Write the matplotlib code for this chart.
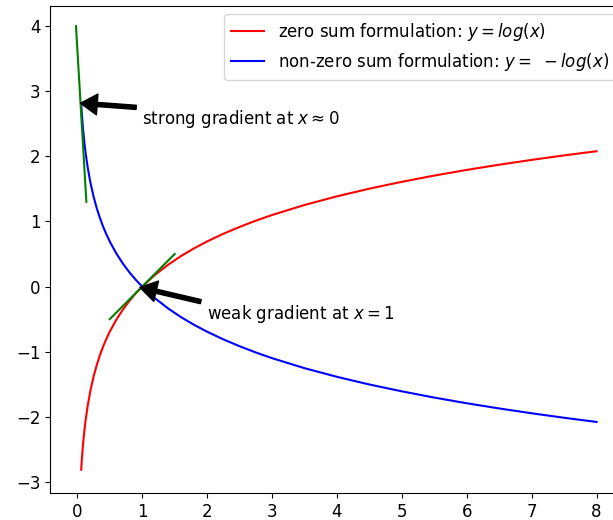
import matplotlib
matplotlib.use('Agg')
import matplotlib.pyplot as plt

plt.rcParams['font.size'] = 12

# values
x_vals = [0.06, 0.07, 0.08, 0.09, 0.1, 0.11, 0.13, 0.16, 0.2, 0.25, 0.3, 0.35,
          0.4, 0.45, 0.5, 0.6, 0.7, 0.8, 0.9, 1.0, 1.2, 1.4, 1.6, 1.8, 2.0,
          2.25, 2.5, 2.75, 3.0, 3.5, 4.0, 4.5, 5.0, 5.5, 6.0, 6.5, 7.0, 7.5, 8.0]
zero_sum_y = [-2.813, -2.659, -2.526, -2.408, -2.303, -2.207, -2.040, -1.833,
              -1.609, -1.386, -1.204, -1.050, -0.916, -0.799, -0.693, -0.511,
              -0.357, -0.223, -0.105, 0.0, 0.182, 0.336, 0.470, 0.588, 0.693,
              0.811, 0.916, 1.012, 1.099, 1.253, 1.386, 1.504, 1.609, 1.705,
              1.792, 1.872, 1.946, 2.015, 2.079]
non_zero_sum_y = [2.813, 2.659, 2.526, 2.408, 2.303, 2.207, 2.040, 1.833,
                  1.609, 1.386, 1.204, 1.050, 0.916, 0.799, 0.693, 0.511,
                  0.357, 0.223, 0.105, 0.0, -0.182, -0.336, -0.470, -0.588,
                  -0.693, -0.811, -0.916, -1.012, -1.099, -1.253, -1.386,
                  -1.504, -1.609, -1.705, -1.792, -1.872, -1.946, -2.015, -2.079]

# tangent segments
steep_x = [-0.02, 0.14]
steep_y = [4.0, 1.3]
weak_x = [0.5, 1.5]
weak_y = [-0.5, 0.5]

fig = plt.figure(figsize=(6.13, 5.2), dpi=100)
ax = fig.add_axes([0.0816, 0.052, 0.936, 0.9365])

ax.plot(x_vals, zero_sum_y, color='red', label='zero sum formulation: $y=log(x)$')
ax.plot(x_vals, non_zero_sum_y, color='blue',
        label='non-zero sum formulation: $y=\\ -log(x)$')
ax.plot(steep_x, steep_y, color='green')
ax.plot(weak_x, weak_y, color='green')

arrow = dict(facecolor='black', shrink=0.05, width=3, headwidth=15, headlength=12)
ax.annotate('strong gradient at $x \\approx 0$', xy=(0.0, 2.82), xytext=(1.0, 2.5),
            arrowprops=arrow)
ax.annotate('weak gradient at $x=1$', xy=(0.91, 0.0), xytext=(2.0, -0.5),
            arrowprops=arrow)

ax.set_xlim(-0.42, 8.42)
ax.set_ylim(-3.17, 4.31)
ax.legend(loc='upper right')

fig.savefig('out.png', dpi=100)
